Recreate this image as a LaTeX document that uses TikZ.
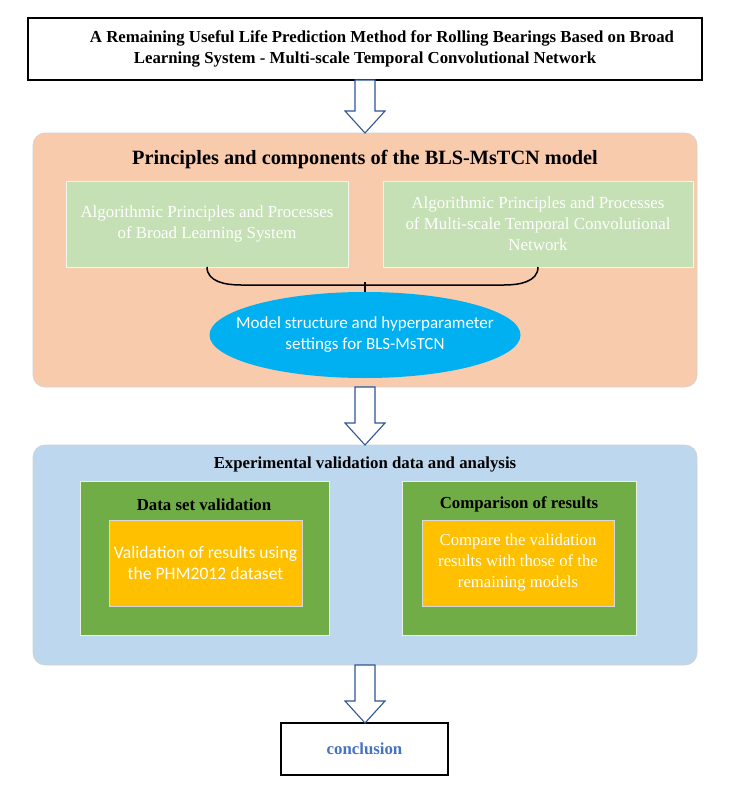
\documentclass[tikz,border=0pt]{standalone}
\usepackage{fontspec}
\setmainfont{Liberation Serif}
\newfontfamily\calibri{Carlito}
\usetikzlibrary{arrows.meta,calc,positioning,shapes.geometric}
\definecolor{peach}{HTML}{F8CBAD}
\definecolor{sage}{HTML}{C5E0B4}
\definecolor{skyblue}{HTML}{00B0F0}
\definecolor{paleblue}{HTML}{BDD7EE}
\definecolor{leaf}{HTML}{70AD47}
\definecolor{amber}{HTML}{FFC000}
\definecolor{arrowblue}{HTML}{2F5597}
\definecolor{textblue}{HTML}{4472C4}
\tikzset{
    mytitle/.style={draw=black,line width=1.5pt,outer sep=0pt,align=center,
        font=\fontsize{16.8}{21}\selectfont\bfseries},
    mypanel/.style={rounded corners=12pt,draw=black!18,line width=0.6pt,outer sep=0pt},
    mylight/.style={fill=sage,draw=white!75!sage,line width=0.8pt,outer sep=0pt,align=center,
        text=white,font=\fontsize{16.9}{21}\selectfont},
    mybox/.style={fill=leaf,draw=white!85!leaf,line width=0.6pt,outer sep=0pt},
    myinner/.style={fill=amber,draw=black!15,line width=0.8pt,outer sep=0pt,align=center,text=white},
    myarrow/.style={draw=arrowblue,fill=white,line width=1.1pt,line join=miter},
    myhead/.style={font=\fontsize{16.8}{20}\selectfont\bfseries}
}

\begin{document}
\begin{tikzpicture}[x=1pt,y=-1pt]
  \useasboundingbox (0,0) rectangle (741,797);

  %---------------- title ----------------
            \node[mytitle,minimum width=674pt,minimum height=62pt] (title) at (365,49)
                {\hspace*{34pt}A Remaining Useful Life Prediction Method for Rolling Bearings Based on Broad\\
                 Learning System - Multi-scale Temporal Convolutional Network};

  %---------------- principles panel ----------------
            \node[mypanel,fill=peach,minimum width=664pt,minimum height=254pt] (principles) at (365,260) {};
            \node[font=\fontsize{20.3}{24}\selectfont\bfseries] (princhead) at (365,160)
                {Principles and components of the BLS-MsTCN model};
            \node[mylight,minimum width=282pt,minimum height=86pt] (blsbox) at (207,224)
                {Algorithmic Principles and Processes\\of Broad Learning System};
            \node[mylight,minimum width=310pt,minimum height=86pt] (tcnbox) at (538,224)
                {Algorithmic Principles and Processes\\of Multi-scale Temporal Convolutional\\Network};
            \node[ellipse,fill=skyblue,inner sep=0pt,minimum width=311pt,minimum height=86pt,
                  label={[align=center,text=white,font=\calibri\fontsize{17}{21}\selectfont]center:
                  Model structure and hyperparameter\\settings for BLS-MsTCN}] (model) at (365,335) {};

  % 括号连线
            \draw[black,line width=1.5pt] (blsbox.south) to[out=-90,in=180] ($(blsbox.south)+(34,18)$)
                -- ($(tcnbox.south)+(-34,18)$) to[out=0,in=-90] (tcnbox.south);
            \draw[black,line width=1.5pt] (model.north) -- ++(0,-10);

  %---------------- experiment panel ----------------
            \node[mypanel,fill=paleblue,minimum width=664pt,minimum height=220pt] (experiment) at (365,555) {};
            \node[myhead] (exphead) at (365,464) {Experimental validation data and analysis};

            \node[mybox,minimum width=249pt,minimum height=154pt] (dataset) at (204.5,558) {};
            \node[mybox,minimum width=234pt,minimum height=154pt] (compare) at (519,558) {};
            \node[myhead] (datahead) at (204,505) {Data set validation};
            \node[myhead] (comphead) at (519,504) {Comparison of results};
            \node[myinner,minimum width=193pt,minimum height=86pt,
                  font=\calibri\fontsize{17.6}{21}\selectfont] (phm) at (205.5,563)
                {Validation of results using\\the PHM2012 dataset};
            \node[myinner,minimum width=192pt,minimum height=86pt,
                  font=\fontsize{16.7}{21}\selectfont] (others) at (518,563)
                {Compare the validation\\results with those of the\\remaining models};

  %---------------- conclusion ----------------
            \node[draw=black,line width=1.5pt,outer sep=0pt,minimum width=167pt,minimum height=52pt,
                  text=textblue,myhead] (concl) at (364.5,749) {conclusion};

  % 空心箭头
            \foreach \a/\b in {title/principles,principles/experiment,experiment/concl}{
                \draw[myarrow] let \p1=(\a.south), \p2=(\b.north) in
                    (\x1-10pt,\y1) -- (\x1+10pt,\y1) -- (\x1+10pt,\y2+22pt) -- (\x1+20pt,\y2+22pt)
                    -- (\x1,\y2) -- (\x1-20pt,\y2+22pt) -- (\x1-10pt,\y2+22pt) -- cycle;
            }

        \end{tikzpicture}
\end{document}
